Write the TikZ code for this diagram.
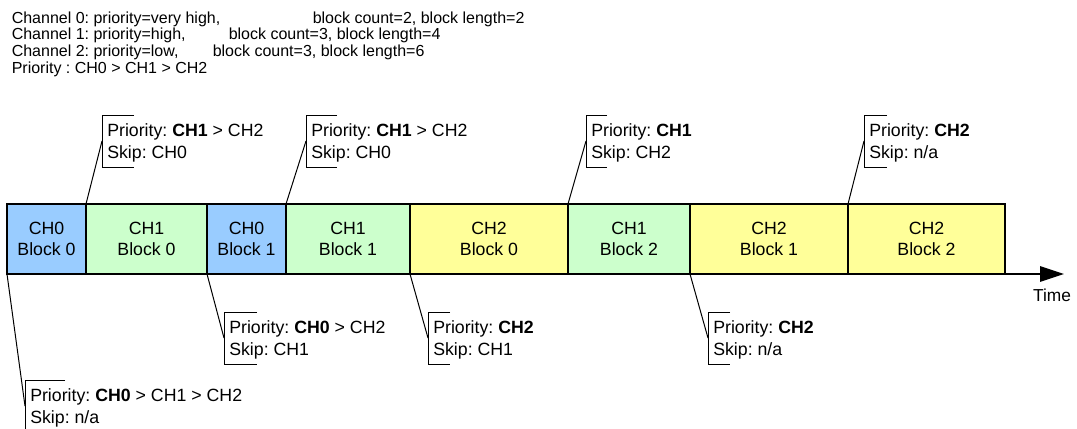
\documentclass[tikz,border=0pt]{standalone}
\usepackage{fontspec}
\setmainfont{Liberation Sans}
\usetikzlibrary{arrows.meta,calc}
\frenchspacing
\definecolor{chzero}{HTML}{99CCFF}
\definecolor{chone}{HTML}{CCFFCC}
\definecolor{chtwo}{HTML}{FFFF99}
\tikzset{
  blk/.style={draw, line width=1pt, inner sep=0pt, outer sep=0pt, minimum height=52.5pt,
    align=center, font=\fontsize{13.3}{16.3}\selectfont},
  lbl/.style={inner sep=0pt, anchor=base west, font=\fontsize{13.3}{16}\selectfont},
  head/.style={inner sep=0pt, anchor=base west, font=\fontsize{12}{14}\selectfont},
  lead/.style={line width=0.75pt},
  brk/.style={line width=0.75pt},
  axis/.style={line width=1pt, -{Triangle[length=18pt,width=11.7pt]}}
}
\newcommand\mycallout[7]{%
  \coordinate (#1) at (#2,#3);
  \draw[brk] ($(#1)+(#4,0)$) -- (#1) -- ++(0,52) -- ++(#4,0);
  \coordinate (#1m) at ($(#1)+(0,26)$);
  \draw[lead] (#5) -- (#1m);
  \node[lbl] (#1a) at ($(#1)+(5,21)$) {#6};
  \node[lbl] (#1b) at ($(#1)+(5,43)$) {#7};
}
\begin{document}
\frenchspacing
\begin{tikzpicture}[x=0.75pt,y=-0.75pt]
\useasboundingbox (0,0) rectangle (1077,428);
\clip (0,0) rectangle (1077,428);

% header text
\node[head] (h1a) at (11.5,23.3) {Channel 0: priority=very high,};
\node[head] (h1b) at (312.5,23.3) {block count=2, block length=2};
\node[head] (h2a) at (11.5,40) {Channel 1: priority=high,};
\node[head] (h2b) at (228.5,40) {block count=3, block length=4};
\node[head] (h3a) at (11.5,56.7) {Channel 2: priority=low,};
\node[head] (h3b) at (212.5,56.7) {block count=3, block length=6};
\node[head] (h4) at (11.5,73.3) {Priority : CH0 > CH1 > CH2};

% time axis
\coordinate (tend) at (1064,274);
\coordinate (tstart) at (7,274);
\draw[axis] (tstart) -- (tend);
\node[inner sep=0pt, anchor=base, font=\fontsize{13}{16}\selectfont] (time) at (1052,301) {Time};

% blocks
\node[blk, fill=chzero, minimum width=59.25pt] (b0) at (46.5,239) {CH0\\Block 0};
\node[blk, fill=chone,  minimum width=90.75pt] (b1) at (146.5,239) {CH1\\Block 0};
\node[blk, fill=chzero, minimum width=59.25pt] (b2) at (246.5,239) {CH0\\Block 1};
\node[blk, fill=chone,  minimum width=93pt]    (b3) at (348,239) {CH1\\Block 1};
\node[blk, fill=chtwo,  minimum width=118.5pt] (b4) at (489,239) {CH2\\Block 0};
\node[blk, fill=chone,  minimum width=91.5pt]  (b5) at (629,239) {CH1\\Block 2};
\node[blk, fill=chtwo,  minimum width=118.5pt] (b6) at (769,239) {CH2\\Block 1};
\node[blk, fill=chtwo,  minimum width=117.75pt] (b7) at (926.5,239) {CH2\\Block 2};

% callouts above
\mycallout{ta}{102}{115}{32}{b1.north west}{Priority: \textbf{CH1} > CH2}{Skip: CH0}
\mycallout{tb}{306}{115}{31}{b3.north west}{Priority: \textbf{CH1} > CH2}{Skip: CH0}
\mycallout{tc}{586}{115}{21}{b5.north west}{Priority: \textbf{CH1}}{Skip: CH2}
\mycallout{td}{864}{115}{23}{b7.north west}{Priority: \textbf{CH2}}{Skip: n/a}

% callouts below
\mycallout{ua}{224}{312}{33}{b2.south west}{Priority: \textbf{CH0} > CH2}{Skip: CH1}
\mycallout{ub}{428}{312}{22}{b4.south west}{Priority: \textbf{CH2}}{Skip: CH1}
\mycallout{uc}{708}{312}{22}{b6.south west}{Priority: \textbf{CH2}}{Skip: n/a}
\mycallout{ud}{25}{380}{40}{b0.south west}{Priority: \textbf{CH0} > CH1 > CH2}{Skip: n/a}
\end{tikzpicture}
\end{document}
